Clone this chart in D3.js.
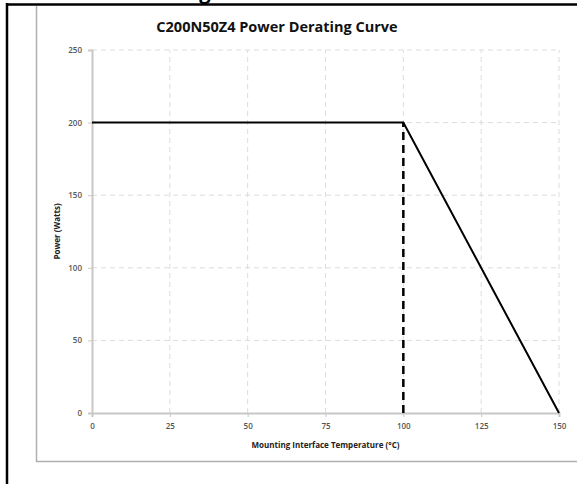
<!DOCTYPE html>
<html>
<head>
<meta charset="utf-8">
<script src="https://cdn.jsdelivr.net/npm/d3@7"></script>
<style>
  html, body { margin: 0; padding: 0; background: #fff; }
  svg { display: block; }
</style>
</head>
<body>
<svg id="chart" width="577" height="484"></svg>
<script>
// derating curve points (temperature °C, power W)
const temps = [0, 100, 150];
const powers = [200, 200, 0];
const kneeTemp = 100;
const kneePower = 200;
const xTicks = [0, 25, 50, 75, 100, 125, 150];
const yTicks = [0, 50, 100, 150, 200, 250];

const svg = d3.select("#chart");

// bottom of a heading cut off above the frame
svg.append("text").attr("x", 205).attr("y", -1).attr("text-anchor", "middle")
  .style("font-family", "'Open Sans', sans-serif").style("font-weight", "bold")
  .style("font-size", "20px").attr("fill", "#000").text("g");

// outer frame (black) and chart box (gray)
svg.append("line").attr("x1", 6).attr("x2", 577).attr("y1", 4.5).attr("y2", 4.5)
  .attr("stroke", "#000").attr("stroke-width", 2.5);
svg.append("line").attr("x1", 7).attr("x2", 7).attr("y1", 3).attr("y2", 484)
  .attr("stroke", "#000").attr("stroke-width", 2.5);
svg.append("path").attr("d", "M36.5,6V461.5H577")
  .attr("fill", "none").attr("stroke", "#b0b0b0").attr("stroke-width", 1.5);

const x = d3.scaleLinear().domain([0, 150]).range([92, 559]);
const y = d3.scaleLinear().domain([0, 250]).range([413, 50]);

// gridlines
svg.append("g").selectAll("line").data(xTicks.slice(1)).enter().append("line")
  .attr("x1", d => x(d)).attr("x2", d => x(d)).attr("y1", y(0)).attr("y2", y(250))
  .attr("stroke", "#dcdcdc").attr("stroke-width", 1).attr("stroke-dasharray", "5,4");
svg.append("g").selectAll("line").data(yTicks.slice(1)).enter().append("line")
  .attr("x1", x(0)).attr("x2", x(150)).attr("y1", d => y(d)).attr("y2", d => y(d))
  .attr("stroke", "#dcdcdc").attr("stroke-width", 1).attr("stroke-dasharray", "5,4");

// axes
const xAxis = svg.append("g").attr("transform", `translate(0,${y(0)})`)
  .call(d3.axisBottom(x).tickValues(xTicks).tickSize(4).tickPadding(6));
const yAxis = svg.append("g").attr("transform", `translate(${x(0)},0)`)
  .call(d3.axisLeft(y).tickValues(yTicks).tickSize(4).tickPadding(6));

[xAxis, yAxis].forEach(a => {
  a.select(".domain").attr("stroke", "#c8c8c8").attr("stroke-width", 2);
  a.selectAll(".tick line").attr("stroke", "#c8c8c8").attr("stroke-width", 1);
  a.selectAll(".tick text")
    .style("font-family", "'Open Sans', sans-serif")
    .style("font-size", "8px")
    .style("font-weight", "600")
    .attr("fill", "#555");
});

// dashed vertical marker at knee
svg.append("line")
  .attr("x1", x(kneeTemp)).attr("x2", x(kneeTemp))
  .attr("y1", y(0)).attr("y2", y(kneePower))
  .attr("stroke", "#000").attr("stroke-width", 2.5).attr("stroke-dasharray", "8,5");

// derating curve
const line = d3.line().x((d, i) => x(temps[i])).y((d, i) => y(powers[i]));
svg.append("path").datum(temps).attr("d", line)
  .attr("fill", "none").attr("stroke", "#000").attr("stroke-width", 2);

// title and labels
svg.append("text").attr("x", 277).attr("y", 32).attr("text-anchor", "middle")
  .style("font-family", "'Open Sans', sans-serif").style("font-weight", "bold")
  .style("font-size", "14.5px").attr("fill", "#111")
  .text("C200N50Z4 Power Derating Curve");

svg.append("text").attr("x", x(75)).attr("y", 448).attr("text-anchor", "middle")
  .style("font-family", "'Open Sans', sans-serif").style("font-weight", "bold")
  .style("font-size", "8px").attr("fill", "#222")
  .text("Mounting Interface Temperature (°C)");

svg.append("text")
  .attr("transform", `translate(60,${y(125)}) rotate(-90)`)
  .attr("text-anchor", "middle")
  .style("font-family", "'Open Sans', sans-serif").style("font-weight", "bold")
  .style("font-size", "8px").attr("fill", "#222")
  .text("Power (Watts)");
</script>
</body>
</html>
